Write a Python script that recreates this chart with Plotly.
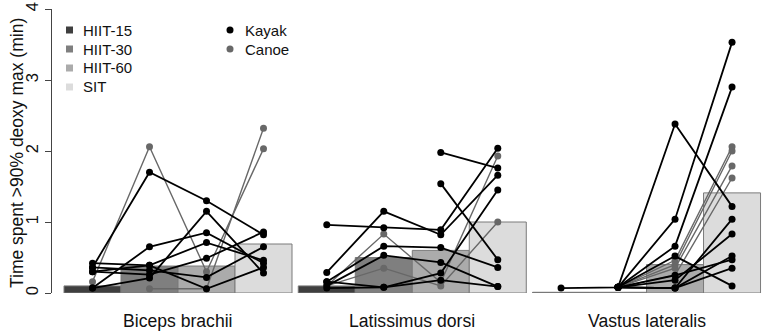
import plotly.graph_objects as go

# ---------------- data ----------------
conditions = ["HIIT-15", "HIIT-30", "HIIT-60", "SIT"]
muscles = ["Biceps brachii", "Latissimus dorsi", "Vastus lateralis"]

# group mean bars (per muscle, in order of conditions)
biceps_means = [0.10, 0.38, 0.38, 0.69]
latissimus_means = [0.10, 0.50, 0.60, 1.00]
vastus_means = [0.01, 0.01, 0.40, 1.41]

# individual subjects: [HIIT-15, HIIT-30, HIIT-60, SIT]
biceps_kayak = [
    [0.36, 1.70, 1.30, 0.82],
    [0.07, 0.65, 0.85, 0.42],
    [0.07, 0.21, 1.15, 0.28],
    [0.42, 0.39, 0.71, 0.46],
    [0.30, 0.26, 0.49, 0.86],
    [0.36, 0.32, 0.22, 0.65],
    [0.30, 0.39, 0.06, 0.36],
]
biceps_canoe = [
    [0.16, 2.06, 0.30, 2.03],
    [None, 0.06, 0.06, 2.32],
]
latissimus_kayak = [
    [0.96, 0.92, 0.89, 2.04],
    [0.29, 1.15, 0.82, 1.66],
    [None, None, 1.98, 1.76],
    [None, None, 1.54, 0.47],
    [0.16, 0.66, 0.64, 0.36],
    [0.10, 0.53, 0.43, 0.09],
    [0.07, 0.08, 0.28, 1.45],
    [0.16, 0.08, 0.18, 0.09],
]
latissimus_canoe = [
    [0.10, 0.83, 0.15, 1.93],
    [0.10, 0.35, 0.10, 1.00],
]
vastus_kayak = [
    [0.07, 0.08, 2.38, 1.22],
    [None, 0.08, 1.04, 3.53],
    [None, 0.08, 0.66, 2.90],
    [None, 0.08, 0.52, 0.10],
    [None, 0.08, 0.07, 1.04],
    [None, 0.08, 0.18, 0.83],
    [None, 0.08, 0.07, 0.52],
    [None, 0.08, 0.25, 0.47],
    [None, 0.08, 0.07, 0.35],
]
vastus_canoe = [
    [None, 0.08, 0.46, 2.06],
    [None, 0.08, 0.40, 2.00],
    [None, 0.08, 0.35, 1.79],
    [None, 0.08, 0.25, 1.62],
]

y_ticks = [0, 1, 2, 3, 4]
y_title = "Time spent >90% deoxy max (min)"
boat_labels = ["Kayak", "Canoe"]

# ---------------- styling ----------------
bar_colors = ["#3f3f3f", "#7f7f7f", "#ababab", "#dcdcdc"]
bar_edge = "#7a7a7a"
kayak_color = "#000000"
canoe_color = "#686868"
FONT = "Arial, Liberation Sans, sans-serif"
TXT = "#111111"

group_gap = 0.11
group_w = len(conditions) + group_gap


def centers(g):
    return [g * group_w + i + 0.5 for i in range(len(conditions))]


means = [biceps_means, latissimus_means, vastus_means]
kayak = [biceps_kayak, latissimus_kayak, vastus_kayak]
canoe = [biceps_canoe, latissimus_canoe, vastus_canoe]

fig = go.Figure()

# bars
for ci, cond in enumerate(conditions):
    xs = [centers(g)[ci] for g in range(len(muscles))]
    ys = [means[g][ci] for g in range(len(muscles))]
    fig.add_trace(go.Bar(x=xs, y=ys, width=1.0, name=cond,
                         marker=dict(color=bar_colors[ci],
                                     line=dict(color=bar_edge, width=1))))

# subject lines
for g in range(len(muscles)):
    xs = centers(g)
    for subj in canoe[g]:
        fig.add_trace(go.Scatter(x=xs, y=subj, mode="lines+markers",
                                 line=dict(color=canoe_color, width=1.4),
                                 marker=dict(color=canoe_color, size=7),
                                 connectgaps=False, cliponaxis=False))
    for subj in kayak[g]:
        fig.add_trace(go.Scatter(x=xs, y=subj, mode="lines+markers",
                                 line=dict(color=kayak_color, width=1.8),
                                 marker=dict(color=kayak_color, size=7),
                                 connectgaps=False, cliponaxis=False))

# ---------------- layout ----------------
W, H = 765, 336
L, R, T, B = 52, 0, 9, 43
pw, ph = W - L - R, H - T - B


def px_x(p):
    return (p - L) / pw


def px_y(p):
    return (H - B - p) / ph


x_lo = -12 / 57
x_hi = x_lo + pw / 57

shapes = []
annotations = []

# legend: conditions
leg_rows = [30, 49, 68, 87]
for i, cond in enumerate(conditions):
    yc = leg_rows[i]
    shapes.append(dict(type="rect", xref="paper", yref="paper",
                       x0=px_x(66), x1=px_x(73), y0=px_y(yc + 3.5), y1=px_y(yc - 3.5),
                       fillcolor=bar_colors[i], line=dict(width=0)))
    annotations.append(dict(text=cond, xref="paper", yref="paper",
                            x=px_x(81), y=px_y(yc), xanchor="left", yanchor="middle",
                            showarrow=False, font=dict(family=FONT, size=15, color=TXT)))
# legend: boats
for i, (lab, col) in enumerate(zip(boat_labels, [kayak_color, canoe_color])):
    yc = leg_rows[i]
    shapes.append(dict(type="circle", xref="paper", yref="paper",
                       x0=px_x(226.5), x1=px_x(233.5), y0=px_y(yc + 3.5), y1=px_y(yc - 3.5),
                       fillcolor=col, line=dict(width=0)))
    annotations.append(dict(text=lab, xref="paper", yref="paper",
                            x=px_x(243), y=px_y(yc), xanchor="left", yanchor="middle",
                            showarrow=False, font=dict(family=FONT, size=15, color=TXT)))

# x group labels
for g, m in enumerate(muscles):
    annotations.append(dict(text=m, xref="x", yref="paper",
                            x=g * group_w + len(conditions) / 2, y=px_y(321),
                            xanchor="center", yanchor="middle", showarrow=False,
                            font=dict(family=FONT, size=17.6, color=TXT)))

# y title
annotations.append(dict(text=y_title, xref="paper", yref="paper",
                        x=px_x(17), y=px_y(153), xanchor="center", yanchor="middle",
                        textangle=-90, showarrow=False,
                        font=dict(family=FONT, size=17.5, color=TXT)))

fig.update_layout(
    width=W, height=H,
    margin=dict(l=L, r=R, t=T, b=B, pad=0),
    plot_bgcolor="white", paper_bgcolor="white",
    showlegend=False, barmode="overlay",
    shapes=shapes, annotations=annotations,
    xaxis=dict(range=[x_lo, x_hi], showgrid=False, zeroline=False,
               showline=False, showticklabels=False, ticks=""),
    yaxis=dict(range=[0, 4], tickvals=y_ticks, showgrid=False, zeroline=False,
               showline=True, linecolor="#444444", linewidth=1,
               ticks="outside", ticklen=6, tickcolor="#444444",
               tickangle=-90, tickfont=dict(family=FONT, size=16.5, color=TXT)),
)

fig.write_html("out.html", config={"displayModeBar": False},
               post_script="document.body.style.margin='0';")
